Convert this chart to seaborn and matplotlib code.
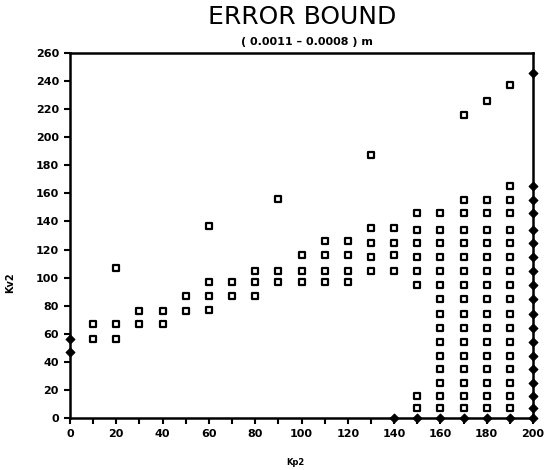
import matplotlib
matplotlib.use("Agg")
import matplotlib.pyplot as plt
import seaborn as sns
import pandas as pd
from matplotlib.ticker import MultipleLocator

# ---- data (Kp2 column -> Kv2 values) ----
kp2_columns = [0, 10, 20, 30, 40, 50, 60, 70, 80, 90, 100,
               110, 120, 130, 140, 150, 160, 170, 180, 190, 200]
kv2_kp0 = [47, 56]
kv2_kp10 = [56, 67]
kv2_kp20 = [56, 67, 107]
kv2_kp30 = [67, 76]
kv2_kp40 = [67, 76]
kv2_kp50 = [76, 87]
kv2_kp60 = [77, 87, 97, 137]
kv2_kp70 = [87, 97]
kv2_kp80 = [87, 97, 105]
kv2_kp90 = [97, 105, 156]
kv2_kp100 = [97, 105, 116]
kv2_kp110 = [97, 105, 116, 126]
kv2_kp120 = [97, 105, 116, 126]
kv2_kp130 = [105, 115, 125, 135, 187]
kv2_kp140 = [0, 105, 116, 125, 135]
kv2_kp150 = [0, 7, 16, 95, 105, 115, 125, 134, 146]
kv2_kp160 = [0, 7, 16, 25, 35, 44, 54, 64, 74, 85, 95, 105, 115, 125, 134, 146]
kv2_kp170 = [0, 7, 16, 25, 35, 44, 54, 64, 74, 85, 95, 105, 115, 125, 134, 146, 155, 216]
kv2_kp180 = [0, 7, 16, 25, 35, 44, 54, 64, 74, 85, 95, 105, 115, 125, 134, 146, 155, 226]
kv2_kp190 = [0, 7, 16, 25, 35, 44, 54, 64, 74, 85, 95, 105, 115, 125, 134, 146, 155, 165, 237]
kv2_kp200 = [0, 7, 16, 25, 35, 44, 54, 64, 74, 85, 95, 105, 115, 125, 134, 146, 155, 165, 246]

x_ticks = [0, 20, 40, 60, 80, 100, 120, 140, 160, 180, 200]
y_ticks = [0, 20, 40, 60, 80, 100, 120, 140, 160, 180, 200, 220, 240, 260]

kv2_lists = [kv2_kp0, kv2_kp10, kv2_kp20, kv2_kp30, kv2_kp40, kv2_kp50, kv2_kp60,
             kv2_kp70, kv2_kp80, kv2_kp90, kv2_kp100, kv2_kp110, kv2_kp120,
             kv2_kp130, kv2_kp140, kv2_kp150, kv2_kp160, kv2_kp170, kv2_kp180,
             kv2_kp190, kv2_kp200]

rows = []
for kp, vals in zip(kp2_columns, kv2_lists):
    for v in vals:
        rows.append({"Kp2": kp, "Kv2": v})
df = pd.DataFrame(rows)
on_edge = (df["Kp2"] == 0) | (df["Kp2"] == 200) | (df["Kv2"] == 0)

sns.set_style("ticks")
plt.rcParams["font.family"] = ["DejaVu Sans"]
plt.rcParams["text.color"] = "black"

fig = plt.figure(figsize=(5.53, 4.70), dpi=100)
ax = fig.add_axes([70 / 553, 1 - 418 / 470, 463 / 553, 365 / 470])

sns.scatterplot(data=df[~on_edge], x="Kp2", y="Kv2", marker="s", s=17,
                facecolor="white", edgecolor="black", linewidth=1.6,
                ax=ax, clip_on=False, zorder=3)
sns.scatterplot(data=df[on_edge], x="Kp2", y="Kv2", marker="D", s=20,
                color="black", edgecolor="black", linewidth=0.8,
                ax=ax, clip_on=False, zorder=4)

ax.set_xlim(0, 200)
ax.set_ylim(0, 260)
ax.set_xticks(x_ticks)
ax.set_yticks(y_ticks)
ax.xaxis.set_minor_locator(MultipleLocator(10))
for side in ["left", "right", "top", "bottom"]:
    ax.spines[side].set_visible(True)
    ax.spines[side].set_color("black")
    ax.spines[side].set_linewidth(1.8)
ax.tick_params(axis="both", which="major", direction="out", length=4, width=1.5,
               labelsize=8, colors="black", pad=4)
ax.tick_params(axis="x", which="minor", direction="out", length=4, width=1.5,
               colors="black")
for lab in ax.get_xticklabels() + ax.get_yticklabels():
    lab.set_fontweight("bold")

ax.set_xlabel("Kp2", fontsize=6, fontweight="bold", color="black")
ax.set_ylabel("Kv2", fontsize=7, fontweight="bold", color="black")
ax.xaxis.set_label_coords(0.486, -0.11)
ax.yaxis.set_label_coords(-0.118, 0.37)

fig.text(302 / 553, 1 - 17 / 470, "ERROR BOUND", ha="center", va="center",
         fontsize=18, fontweight="normal", color="black")
fig.text(307 / 553, 1 - 42 / 470, "( 0.0011 – 0.0008 ) m", ha="center", va="center",
         fontsize=8, fontweight="bold", color="black")

fig.savefig("out.png", dpi=100)
